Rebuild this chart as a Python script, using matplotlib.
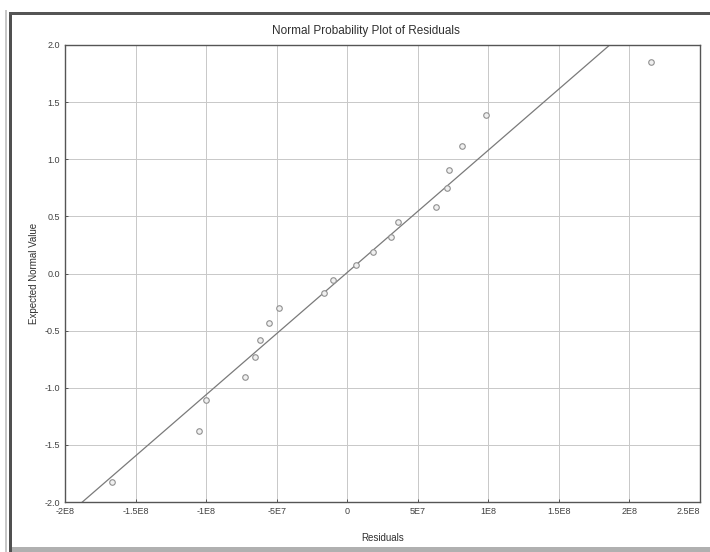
import matplotlib
matplotlib.use('Agg')
import matplotlib.pyplot as plt
from matplotlib.patches import Rectangle

# residuals vs expected normal values
residuals = [-1.664e8, -1.048e8, -1.0e8, -7.22e7, -6.52e7, -6.16e7, -5.52e7, -4.82e7,
             -1.63e7, -0.99e7, 0.64e7, 1.84e7, 3.1e7, 3.6e7, 6.3e7, 7.1e7,
             7.2e7, 8.1e7, 9.8e7, 2.15e8]
expected = [-1.825, -1.379, -1.107, -0.906, -0.73, -0.582, -0.43, -0.30,
            -0.17, -0.06, 0.074, 0.19, 0.32, 0.45, 0.58, 0.75,
            0.91, 1.12, 1.39, 1.85]

# reference line: expected = fitSlope * residual + fitIntercept
fitSlope = 4.0 / 3.737e8
fitIntercept = 0.009

xTicks = [-2e8, -1.5e8, -1e8, -5e7, 0, 5e7, 1e8, 1.5e8, 2e8, 2.5e8]
xTickLabels = ['-2E8', '-1.5E8', '-1E8', '-5E7', '0', '5E7', '1E8', '1.5E8', '2E8', '2.5E8']
yTicks = [-2.0, -1.5, -1.0, -0.5, 0.0, 0.5, 1.0, 1.5, 2.0]
yTickLabels = ['-2.0', '-1.5', '-1.0', '-0.5', '0.0', '0.5', '1.0', '1.5', '2.0']

plt.rcParams['font.family'] = ['Liberation Sans', 'DejaVu Sans']

fig = plt.figure(figsize=(7.10, 5.52), dpi=100)
fig.patch.set_facecolor('white')

# window frame of the screenshot
fig.patches.append(Rectangle((5 / 710, 0), 2 / 710, 1 - 10 / 552, transform=fig.transFigure,
                             facecolor='#c8c8c8', edgecolor='none'))
fig.patches.append(Rectangle((9 / 710, 0), 3 / 710, 1 - 12 / 552, transform=fig.transFigure,
                             facecolor='#505050', edgecolor='none'))
fig.patches.append(Rectangle((9 / 710, 1 - 15 / 552), 701 / 710, 3 / 552, transform=fig.transFigure,
                             facecolor='#555555', edgecolor='none'))
fig.patches.append(Rectangle((12 / 710, 0), 698 / 710, 5 / 552, transform=fig.transFigure,
                             facecolor='#b0b0b0', edgecolor='none'))

ax = fig.add_axes([65 / 710, 50 / 552, 635 / 710, 457 / 552])
ax.set_xlim(-2e8, 2.5e8)
ax.set_ylim(-2.0, 2.0)

xs = [-2.2e8, 2.6e8]
ax.plot(xs, [fitSlope * x + fitIntercept for x in xs], color='#7a7a7a', linewidth=0.9, zorder=2)
ax.plot(residuals, expected, linestyle='none', marker='o', markersize=4,
        markerfacecolor='#f0f0f0', markeredgecolor='#909090', markeredgewidth=0.8, zorder=3)

ax.set_xticks(xTicks)
ax.set_xticklabels(xTickLabels)
ax.set_yticks(yTicks)
ax.set_yticklabels(yTickLabels)
ax.tick_params(labelsize=6.5, colors='#404040', length=2, width=0.6, direction='in')
# keep the last x label inside the figure
ax.get_xticklabels()[-1].set_horizontalalignment('right')
ax.get_xticklabels()[-1].set_x(2.5e8)
ax.grid(True, color='#c8c8c8', linewidth=0.7)
for spine in ax.spines.values():
  spine.set_color('#555555')
  spine.set_linewidth(1.0)

ax.set_xlabel('Residuals', fontsize=7, color='#303030', labelpad=12)
ax.set_ylabel('Expected Normal Value', fontsize=7, color='#303030', labelpad=4)
fig.text(366 / 710, 1 - 31 / 552, 'Normal Probability Plot of Residuals', fontsize=8.5,
         color='#303030', ha='center', va='center')

plt.savefig('out.png', dpi=100)
plt.close()
